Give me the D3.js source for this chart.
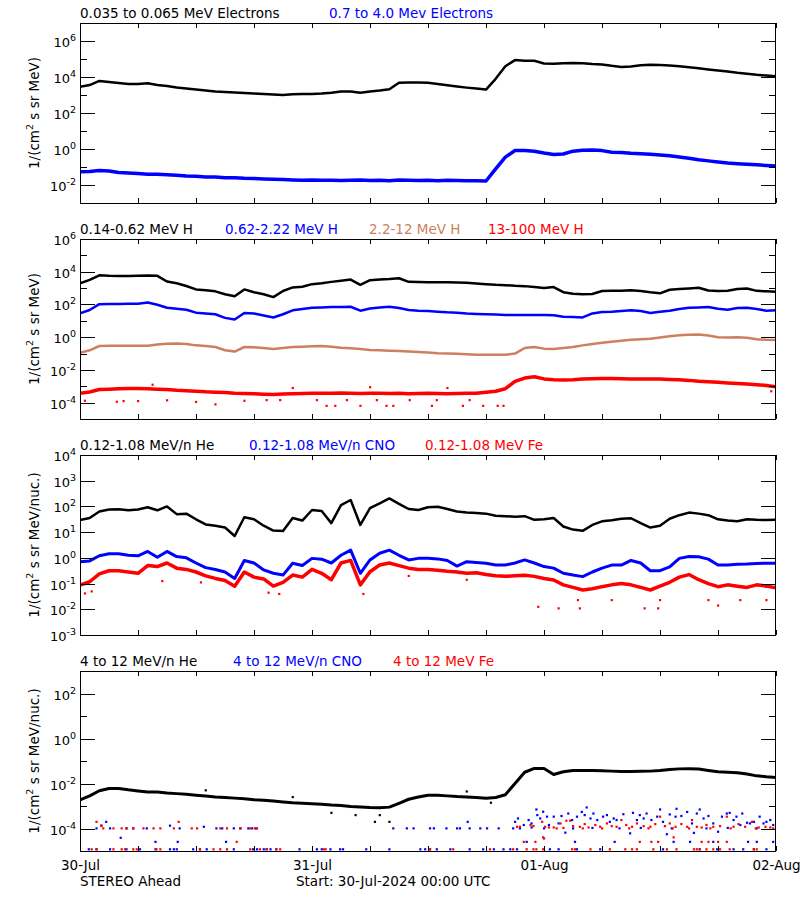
<!DOCTYPE html>
<html><head><meta charset="utf-8">
<script src="https://cdn.jsdelivr.net/npm/d3@7"></script>
<style>
body{margin:0;background:#fff}
svg{display:block}
text{font-family:"DejaVu Sans",sans-serif}
</style>
</head><body>
<svg id="chart" width="800" height="900"></svg>
<script>
// ---------- DATA (log10 of flux, hourly from 30-Jul-2024 00:00 UTC) ----------
const HOURS = d3.range(0, 73);
const DAY_LABELS = ["30-Jul", "31-Jul", "01-Aug", "02-Aug"];

// Panel 1: electrons
const e035Log = [3.46,3.55,3.78,3.72,3.67,3.61,3.61,3.65,3.56,3.5,
 3.42,3.36,3.31,3.25,3.19,3.17,3.14,3.11,3.08,3.06,
 3.03,3.0,3.04,3.05,3.06,3.08,3.12,3.2,3.2,3.12,
 3.2,3.25,3.32,3.68,3.7,3.7,3.68,3.61,3.54,3.47,
 3.41,3.36,3.3,3.9,4.6,4.94,4.9,4.9,4.75,4.74,
 4.77,4.78,4.76,4.72,4.7,4.62,4.56,4.58,4.65,4.68,
 4.67,4.64,4.6,4.54,4.48,4.42,4.36,4.3,4.23,4.18,
 4.12,4.08,4.04];
const e07Log = [-1.26,-1.25,-1.2,-1.22,-1.3,-1.33,-1.36,-1.4,-1.4,-1.43,
 -1.46,-1.5,-1.52,-1.55,-1.56,-1.6,-1.6,-1.63,-1.64,-1.66,
 -1.68,-1.7,-1.72,-1.73,-1.72,-1.74,-1.73,-1.75,-1.74,-1.72,
 -1.75,-1.73,-1.76,-1.72,-1.74,-1.75,-1.73,-1.76,-1.74,-1.75,
 -1.77,-1.76,-1.78,-1.1,-0.45,-0.08,-0.08,-0.12,-0.22,-0.3,
 -0.28,-0.12,-0.07,-0.06,-0.09,-0.18,-0.2,-0.24,-0.26,-0.29,
 -0.33,-0.38,-0.45,-0.52,-0.6,-0.66,-0.72,-0.78,-0.82,-0.85,
 -0.88,-0.91,-0.94];

// Panel 2: protons
const h014Log = [3.29,3.5,3.78,3.75,3.74,3.74,3.75,3.77,3.75,3.4,
 3.3,3.13,2.92,2.87,2.8,2.62,2.5,2.92,2.75,2.62,
 2.45,2.82,3.04,3.08,3.24,3.3,3.38,3.45,3.52,3.2,
 3.48,3.52,3.55,3.6,3.38,3.37,3.36,3.35,3.35,3.34,
 3.33,3.28,3.24,3.2,3.18,3.14,3.12,3.06,3.0,3.06,
 2.75,2.65,2.62,2.64,2.82,2.83,2.84,2.87,2.82,2.74,
 2.68,2.9,2.95,2.98,3.02,2.85,2.82,2.84,2.95,2.98,
 2.83,2.8,2.78];
const h062Log = [1.46,1.66,2.02,2.03,2.03,2.04,2.05,2.12,1.98,1.8,
 1.74,1.68,1.5,1.45,1.4,1.18,1.08,1.48,1.45,1.32,
 1.2,1.4,1.64,1.72,1.8,1.82,1.84,1.85,1.86,1.62,
 1.75,1.82,1.86,1.78,1.66,1.62,1.6,1.56,1.52,1.5,
 1.44,1.42,1.4,1.38,1.36,1.35,1.35,1.35,1.35,1.34,
 1.25,1.23,1.21,1.45,1.54,1.56,1.6,1.64,1.6,1.48,
 1.55,1.62,1.72,1.8,1.82,1.84,1.74,1.68,1.78,1.8,
 1.72,1.62,1.64];
const h22Log = [-0.95,-0.8,-0.54,-0.53,-0.52,-0.52,-0.52,-0.52,-0.45,-0.4,
 -0.38,-0.42,-0.5,-0.54,-0.6,-0.8,-0.88,-0.6,-0.62,-0.66,
 -0.72,-0.66,-0.6,-0.58,-0.55,-0.54,-0.58,-0.64,-0.68,-0.72,
 -0.78,-0.8,-0.83,-0.85,-0.88,-0.9,-0.94,-0.98,-1.0,-1.02,
 -1.05,-1.07,-1.08,-1.08,-1.08,-1.0,-0.66,-0.6,-0.7,-0.72,
 -0.66,-0.6,-0.5,-0.42,-0.34,-0.28,-0.22,-0.16,-0.12,-0.1,
 -0.02,0.06,0.12,0.15,0.17,0.1,0.0,-0.02,0.0,-0.04,
 -0.12,-0.16,-0.17];
const h13Log = [-3.43,-3.35,-3.2,-3.18,-3.15,-3.13,-3.13,-3.15,-3.18,-3.2,
 -3.25,-3.28,-3.3,-3.34,-3.36,-3.38,-3.42,-3.44,-3.46,-3.48,
 -3.5,-3.47,-3.45,-3.44,-3.43,-3.42,-3.43,-3.41,-3.42,-3.44,
 -3.43,-3.42,-3.44,-3.43,-3.45,-3.44,-3.43,-3.44,-3.45,-3.44,
 -3.43,-3.42,-3.36,-3.3,-3.15,-2.7,-2.5,-2.42,-2.55,-2.6,
 -2.62,-2.6,-2.56,-2.54,-2.52,-2.53,-2.54,-2.55,-2.56,-2.56,
 -2.56,-2.58,-2.6,-2.64,-2.7,-2.72,-2.76,-2.8,-2.83,-2.86,
 -2.9,-2.95,-3.03];
const h13Scatter = [[0.5,-3.88],[3.8,-3.94],[4.5,-3.9],[6,-3.9],[7.5,-2.9],[9,-3.85],[12,-3.95],[14,-4.1],
 [17,-3.88],[19.3,-3.84],[20.7,-3.84],[22,-3.1],[24.5,-3.84],[25.5,-4.19],[26.4,-4.19],[27.6,-3.84],
 [29,-4.19],[30,-3.05],[30.7,-3.84],[31.7,-4.19],[32.4,-4.19],[34.1,-3.84],[36.4,-4.19],[36.9,-3.84],
 [38,-3.1],[39.6,-4.19],[40.3,-3.84],[41.7,-4.19],[43.2,-4.19],[43.8,-4.19],[71.5,-3.3],[72,-3.35]];

// Panel 3: 0.12-1.08 MeV/n heavy ions
const he012Log = [1.47,1.55,1.8,1.88,1.89,1.85,1.88,1.97,1.85,2.0,
 1.7,1.72,1.5,1.3,1.25,1.18,0.85,1.58,1.5,1.25,
 1.06,1.04,1.55,1.45,1.86,1.82,1.35,2.05,2.25,1.28,
 1.93,2.12,2.31,2.1,1.9,1.86,1.97,1.99,1.9,1.8,
 1.76,1.74,1.72,1.64,1.62,1.6,1.62,1.48,1.5,1.55,
 1.22,1.1,1.05,1.28,1.42,1.46,1.52,1.54,1.35,1.18,
 1.25,1.52,1.66,1.76,1.72,1.66,1.5,1.45,1.42,1.5,
 1.48,1.47,1.48];
const cno012Log = [-0.15,-0.12,0.08,0.16,0.16,0.1,0.08,0.25,0.02,0.25,
 0.05,0.0,-0.2,-0.38,-0.45,-0.55,-0.8,-0.1,-0.2,-0.47,
 -0.6,-0.67,-0.21,-0.3,-0.02,-0.05,-0.2,0.1,0.3,-0.6,
 -0.08,0.18,0.3,0.1,-0.08,-0.02,-0.02,-0.04,-0.1,-0.32,
 -0.15,-0.18,-0.21,-0.28,-0.28,-0.2,-0.08,-0.2,-0.34,-0.4,
 -0.6,-0.67,-0.73,-0.55,-0.4,-0.28,-0.28,-0.1,-0.2,-0.5,
 -0.5,-0.35,-0.02,0.05,0.04,-0.05,-0.28,-0.28,-0.25,-0.24,
 -0.22,-0.21,-0.21];
const fe012Log = [-1.06,-0.93,-0.62,-0.5,-0.5,-0.55,-0.6,-0.3,-0.34,-0.2,
 -0.4,-0.45,-0.55,-0.7,-0.8,-0.88,-1.1,-0.55,-0.75,-0.82,
 -1.1,-0.95,-0.67,-0.75,-0.45,-0.6,-0.85,-0.2,-0.1,-1.05,
 -0.54,-0.28,-0.2,-0.3,-0.4,-0.45,-0.45,-0.48,-0.52,-0.55,
 -0.6,-0.58,-0.65,-0.7,-0.72,-0.7,-0.68,-0.72,-0.8,-0.86,
 -1.05,-1.15,-1.25,-1.2,-1.12,-1.05,-1.0,-1.05,-1.15,-1.25,
 -1.1,-0.95,-0.75,-0.65,-0.85,-1.0,-1.12,-1.05,-1.1,-1.15,
 -1.05,-1.1,-1.16];
const fe012Scatter = [[0.5,-1.38],[1.2,-1.3],[8.5,-0.9],[12.5,-0.95],[19.5,-1.35],[20.6,-1.4],[29.3,-1.4],
 [34,-0.7],[40,-0.85],[47.4,-1.9],[49.5,-1.96],[51.5,-1.64],[51.7,-1.96],[55,-1.64],[58.4,-1.96],
 [59.8,-1.96],[60,-1.64],[65,-1.64],[66,-1.85],[68.3,-1.64],[71,-1.64]];

// Panel 4: 4-12 MeV/n heavy ions
const he4Log = [-2.73,-2.55,-2.32,-2.22,-2.22,-2.28,-2.33,-2.38,-2.38,-2.42,
 -2.45,-2.48,-2.52,-2.56,-2.6,-2.62,-2.65,-2.68,-2.72,-2.74,
 -2.78,-2.82,-2.86,-2.88,-2.9,-2.92,-2.96,-2.98,-3.02,-3.04,
 -3.07,-3.08,-3.05,-2.88,-2.7,-2.6,-2.52,-2.52,-2.55,-2.58,
 -2.6,-2.62,-2.66,-2.62,-2.5,-2.0,-1.5,-1.33,-1.33,-1.6,
 -1.48,-1.42,-1.42,-1.42,-1.43,-1.45,-1.47,-1.47,-1.46,-1.45,
 -1.42,-1.38,-1.35,-1.34,-1.36,-1.42,-1.48,-1.5,-1.52,-1.58,
 -1.66,-1.7,-1.73];
const he4Scatter = [[13,-2.3],[22,-2.6],[26,-3.3],[28.5,-3.4],[30.5,-3.7],[31,-3.4],[32,-3.7],[40,-2.35],[42.5,-2.85]];
const cno4Points = [
 [1.7,-3.99],[2.2,-3.87],[2.7,-3.7],[3.1,-3.99],[4.2,-4.41],[4.8,-3.99],[5.5,-3.99],[6.9,-3.99],[7.8,-4.59],
 [9.3,-3.87],[10.1,-4.59],[10.3,-3.99],[12.8,-3.92],[14.1,-3.99],[14.7,-3.99],[15.1,-4.59],[15.9,-3.99],
 [16.6,-3.99],[17.4,-3.99],[17.8,-3.99],[18.2,-3.99],[32.4,-3.99],[33.8,-3.99],[34.5,-3.99],[36.2,-3.99],
 [36.6,-3.99],[37.9,-3.99],[39.0,-3.99],[39.3,-3.99],[40.1,-3.7],[40.3,-3.99],[41.4,-3.99],[42.1,-3.99],
 [43.3,-3.99],[44.8,-3.99],
 [0.9,-4.92],[1.7,-4.92],[3.1,-4.92],[4.8,-4.92],[6.2,-4.92],[7.8,-4.92],[9.3,-4.92],[9.7,-4.92],[10.0,-4.92],
 [11.7,-4.92],[12.4,-4.92],[13.1,-4.92],[15.9,-4.92],[17.9,-4.92],[18.3,-4.92],[19.0,-4.92],[19.3,-4.92],
 [19.7,-4.92],[20.3,-4.92],[22.7,-4.92],[24.5,-4.92],[25.0,-4.92],[25.9,-4.92],[26.9,-4.92],[27.2,-4.92],
 [29.6,-4.92],[32.0,-4.92],[35.2,-4.92],[35.7,-4.92],[36.2,-4.92],[36.9,-4.92],[38.3,-4.92],[40.3,-4.92],
 [41.7,-4.92],[42.8,-4.92],[43.8,-4.92],[44.5,-4.92],[45.2,-4.92],[48.6,-4.92],[49.5,-4.92],[51.4,-4.92],
 [53.8,-4.92],[60.3,-4.92],[64.1,-4.92],[65.9,-4.92],[67.6,-4.92],[68.6,-4.92],[69.7,-4.92],[71.0,-4.92],
 [45.0,-3.7],[45.3,-3.55],[45.9,-3.84],[46.4,-3.62],[46.7,-3.77],[47.2,-3.15],[47.3,-3.4],[47.6,-3.55],
 [47.9,-3.25],[48.3,-3.47],[48.5,-3.84],[49.0,-3.47],[49.5,-3.77],[49.8,-3.44],[50.2,-4.18],[50.5,-3.33],
 [50.9,-3.62],[51.4,-3.47],[51.9,-3.26],[52.2,-3.4],[52.4,-3.06],[52.8,-3.55],[53.1,-3.33],[53.5,-3.62],
 [54.1,-3.47],[54.5,-3.4],[54.8,-3.7],[55.2,-3.55],[55.5,-3.62],[56.2,-3.36],[56.9,-4.21],[57.2,-3.3],
 [57.6,-3.62],[57.9,-3.4],[58.3,-3.55],[58.6,-3.33],[59.1,-3.62],[59.7,-3.47],[60.0,-3.15],[60.3,-3.7],
 [60.7,-4.25],[61.0,-3.37],[61.6,-3.47],[61.7,-3.12],[62.2,-3.44],[62.8,-3.26],[63.3,-3.77],[63.5,-4.19],
 [63.8,-3.33],[64.1,-3.15],[64.5,-3.55],[65.0,-3.44],[65.5,-3.77],[66.0,-4.14],[66.4,-3.47],[66.9,-3.33],
 [67.2,-3.3],[67.6,-3.62],[67.9,-3.47],[68.3,-3.84],[68.5,-3.33],[69.0,-3.74],[69.3,-3.77],[69.7,-3.7],
 [70.3,-3.47],[70.7,-3.77],[71.0,-3.7],[71.4,-3.62],[71.7,-3.84],[72.0,-3.55],
 [45.5,-3.99],[46.7,-3.95],[48.0,-3.99],[51.0,-3.99],[53.0,-3.97],[55.8,-3.99],[58.0,-3.97],[61.2,-3.99],
 [64.8,-3.99],[67.0,-3.97],[70.0,-3.99],
 [46.2,-4.59],[51.2,-4.59],[55.3,-4.59],[61.4,-4.59],[63.1,-4.59],[65.5,-4.59],[69.1,-4.59],[70.0,-4.59],[71.7,-4.59]];
const fe4Points = [
 [2.4,-3.99],[3.45,-3.99],[4.3,-3.99],[4.8,-3.99],[5.5,-3.99],[6.55,-3.99],[7.6,-3.99],[8.3,-3.99],[9.7,-3.99],
 [11.55,-3.99],[12.1,-3.99],[14.5,-3.99],[15.2,-3.99],[16.55,-3.99],[17.6,-3.99],[18.1,-3.99],[18.3,-3.99],
 [1.7,-3.7],[10.2,-3.7],[2.2,-3.87],[16.2,-4.59],
 [1.2,-4.92],[1.7,-4.92],[3.45,-4.92],[4.3,-4.92],[4.66,-4.92],[5.5,-4.92],[5.86,-4.92],[7.9,-4.92],[8.3,-4.92],
 [12.4,-4.92],[13.8,-4.92],[14.5,-4.92],[15.2,-4.92],[17.6,-4.92],[18.6,-4.92],[19.3,-4.92],[20.3,-4.92],
 [20.7,-4.92],[25.2,-4.92],[25.4,-4.92],[36.2,-4.92],[38.6,-4.92],[42.4,-4.92],[44.8,-4.92],[46.2,-4.92],
 [46.9,-4.92],[47.2,-4.92],[47.9,-4.92],[50.9,-4.92],[51.2,-4.92],[52.8,-4.92],[54.8,-4.92],[56.4,-4.92],
 [57.1,-4.92],[57.6,-4.92],[59.3,-4.92],[60.7,-4.92],[61.7,-4.92],[63.5,-4.92],[63.8,-4.92],[64.1,-4.92],
 [64.8,-4.92],[65.5,-4.92],[66.2,-4.92],[67.2,-4.92],[69.7,-4.92],[70.0,-4.92],
 [47.1,-4.59],[48.0,-4.44],[45.9,-4.59],[47.9,-4.39],[57.9,-4.59],[59.1,-4.59],[59.8,-4.59],[61.4,-4.39],
 [64.3,-4.59],[65.0,-4.59],[66.0,-4.59],[66.9,-4.59],
 [45.2,-3.92],[45.5,-3.92],[46.6,-3.84],[46.9,-3.89],[47.8,-3.7],[48.1,-3.92],[48.5,-3.95],
 [49.0,-3.95],[49.7,-3.77],[50.3,-3.65],[50.7,-3.65],[51.0,-3.89],[51.7,-3.92],[52.2,-3.8],[52.6,-3.95],
 [53.3,-3.84],[53.8,-3.92],[54.5,-3.77],[55.0,-3.89],[55.5,-3.92],[56.0,-3.62],[56.5,-3.84],[57.1,-3.92],
 [57.6,-3.77],[58.3,-3.89],[59.0,-3.92],[59.5,-3.8],[60.0,-3.47],[60.5,-3.89],[61.0,-3.77],[61.6,-3.92],
 [62.2,-3.8],[62.8,-3.92],[63.3,-3.62],[63.8,-3.92],[64.3,-3.95],[64.8,-3.84],[65.5,-3.92],[66.2,-3.89],
 [66.9,-3.47],[67.6,-3.92],[68.1,-3.8],[68.8,-3.92],[69.5,-3.7],[70.2,-3.95],[70.9,-3.92],[71.4,-3.95],[72.0,-3.89],
 [49.3,-3.99],[50.0,-3.97],[52.0,-3.99],[54.0,-3.99],[56.8,-3.99],[58.8,-3.99],[61.3,-3.99],[63.0,-3.99],
 [65.2,-3.99],[67.3,-3.99],[69.9,-3.99],[71.7,-3.99]];

// ---------- LAYOUT ----------
const COLORS = {black:"#000000", blue:"#0000ff", tan:"#cd7f60", red:"#ff0000"};
const L = 80, R = 776, PH = 180;
const t0 = Date.UTC(2024, 6, 30);
const tAt = h => new Date(t0 + h * 3600e3);
const x = d3.scaleUtc().domain([tAt(0), tAt(72)]).range([L, R]);

const panels = [
  {top:23, dom:[-3,7], major:[6,4,2,0,-2], minor:[5,3,1,-1], unit:"MeV)",
   titles:[["0.035 to 0.065 MeV Electrons",80,"black"],["0.7 to 4.0 Mev Electrons",329,"blue"]],
   lines:[[e035Log,"black",2.5],[e07Log,"blue",3.5]], dots:[]},
  {top:239, dom:[-5,6], major:[6,4,2,0,-2,-4], minor:[5,3,1,-1,-3], unit:"MeV)",
   titles:[["0.14-0.62 MeV H",80,"black"],["0.62-2.22 MeV H",225,"blue"],["2.2-12 MeV H",369,"tan"],["13-100 MeV H",488,"red"]],
   lines:[[h014Log,"black",2.5],[h062Log,"blue",2.5],[h22Log,"tan",2.5],[h13Log,"red",3.5]],
   dots:[[h13Scatter,"red"]]},
  {top:455, dom:[-3,4], major:[4,3,2,1,0,-1,-2,-3], minor:[], unit:"MeV/nuc.)",
   titles:[["0.12-1.08 MeV/n He",80,"black"],["0.12-1.08 MeV/n CNO",249,"blue"],["0.12-1.08 MeV Fe",425,"red"]],
   lines:[[he012Log,"black",2.5],[cno012Log,"blue",3],[fe012Log,"red",3.5]],
   dots:[[fe012Scatter,"red"]]},
  {top:671, dom:[-5,3], major:[2,0,-2,-4], minor:[1,-1,-3], unit:"MeV/nuc.)",
   titles:[["4 to 12 MeV/n He",80,"black"],["4 to 12 MeV/n CNO",233,"blue"],["4 to 12 MeV Fe",393,"red"]],
   lines:[[he4Log,"black",3]],
   dots:[[he4Scatter,"black"],[cno4Points,"blue"],[fe4Points,"red"]]}
];

const svg = d3.select("#chart");
svg.append("rect").attr("width",800).attr("height",900).attr("fill","#fff");

panels.forEach((p, i) => {
  const y = d3.scaleLog().domain([10 ** p.dom[0], 10 ** p.dom[1]]).range([p.top + PH, p.top]);
  const g = svg.append("g");
  const clipId = "clip" + i;
  svg.append("clipPath").attr("id", clipId).append("rect")
    .attr("x", L).attr("y", p.top).attr("width", R - L).attr("height", PH);

  // series
  const plot = g.append("g").attr("clip-path", `url(#${clipId})`);
  const line = d3.line().x(d => x(tAt(d[0]))).y(d => y(10 ** d[1]));
  p.lines.forEach(([vals, col, w]) => {
    plot.append("path").datum(HOURS.map((h, k) => [h, vals[k]]))
      .attr("d", line).attr("fill", "none").attr("stroke", COLORS[col])
      .attr("stroke-width", w).attr("stroke-linejoin", "round");
  });
  p.dots.forEach(([pts, col]) => {
    plot.selectAll(null).data(pts).join("rect")
      .attr("x", d => x(tAt(d[0])) - 1).attr("y", d => y(10 ** d[1]) - 1)
      .attr("width", 2.2).attr("height", 2.2).attr("fill", COLORS[col]);
  });

  // axes ticks
  const tickStyle = sel => { sel.select(".domain").remove(); sel.selectAll("line").attr("stroke","#000").attr("shape-rendering","crispEdges"); };
  const sixH = d3.utcHour.every(6).range(tAt(0), tAt(72.1));
  g.append("g").attr("transform", `translate(0,${p.top + PH})`)
    .call(d3.axisBottom(x).tickValues(sixH).tickSize(-5).tickFormat("")).call(tickStyle);
  g.append("g").attr("transform", `translate(0,${p.top})`)
    .call(d3.axisTop(x).tickValues(sixH).tickSize(-5).tickFormat("")).call(tickStyle);
  const majV = p.major.map(e => 10 ** e), minV = p.minor.map(e => 10 ** e);
  g.append("g").attr("transform", `translate(${L},0)`)
    .call(d3.axisLeft(y).tickValues(majV).tickSize(-15).tickFormat("")).call(tickStyle);
  g.append("g").attr("transform", `translate(${L},0)`)
    .call(d3.axisLeft(y).tickValues(minV).tickSize(-7).tickFormat("")).call(tickStyle);
  g.append("g").attr("transform", `translate(${R},0)`)
    .call(d3.axisRight(y).tickValues(majV).tickSize(-15).tickFormat("")).call(tickStyle);
  g.append("g").attr("transform", `translate(${R},0)`)
    .call(d3.axisRight(y).tickValues(minV).tickSize(-7).tickFormat("")).call(tickStyle);

  // frame
  g.append("rect").attr("x", L + 0.5).attr("y", p.top + 0.5).attr("width", R - L - 1).attr("height", PH)
    .attr("fill", "none").attr("stroke", "#000").attr("stroke-width", 1);

  // tick labels 10^n
  p.major.forEach(e => {
    const t = g.append("text").attr("x", 76).attr("y", y(10 ** e) + 6)
      .attr("text-anchor", "end").attr("font-size", 13).attr("fill", "#000");
    t.append("tspan").text("10");
    t.append("tspan").attr("dy", -6).attr("font-size", 9.5).text(String(e));
  });

  // y title
  const yt = g.append("text").attr("transform", `translate(39,${p.top + PH / 2}) rotate(-90)`)
    .attr("text-anchor", "middle").attr("font-size", 13.5).attr("fill", "#000");
  yt.append("tspan").text("1/(cm");
  yt.append("tspan").attr("dy", -6).attr("font-size", 9.5).text("2");
  yt.append("tspan").attr("dy", 6).text(" s sr " + p.unit);

  // titles
  p.titles.forEach(([txt, tx, col]) => {
    g.append("text").attr("x", tx).attr("y", p.top - 5).attr("font-size", 13.5)
      .attr("fill", COLORS[col]).text(txt);
  });
});

// bottom date labels
const dayTicks = DAY_LABELS.map((d, k) => tAt(24 * k));
const ax = svg.append("g").attr("transform", `translate(0,851)`)
  .call(d3.axisBottom(x).tickValues(dayTicks).tickSize(0).tickPadding(9)
    .tickFormat((d, k) => DAY_LABELS[k]));
ax.select(".domain").remove();
ax.selectAll("text").attr("font-size", 13.5).attr("font-family", '"DejaVu Sans",sans-serif').attr("fill", "#000");

svg.append("text").attr("x", 80).attr("y", 886).attr("font-size", 13.5).text("STEREO Ahead");
svg.append("text").attr("x", 296).attr("y", 886).attr("font-size", 13.5).text("Start: 30-Jul-2024 00:00 UTC");
</script>
</body></html>
